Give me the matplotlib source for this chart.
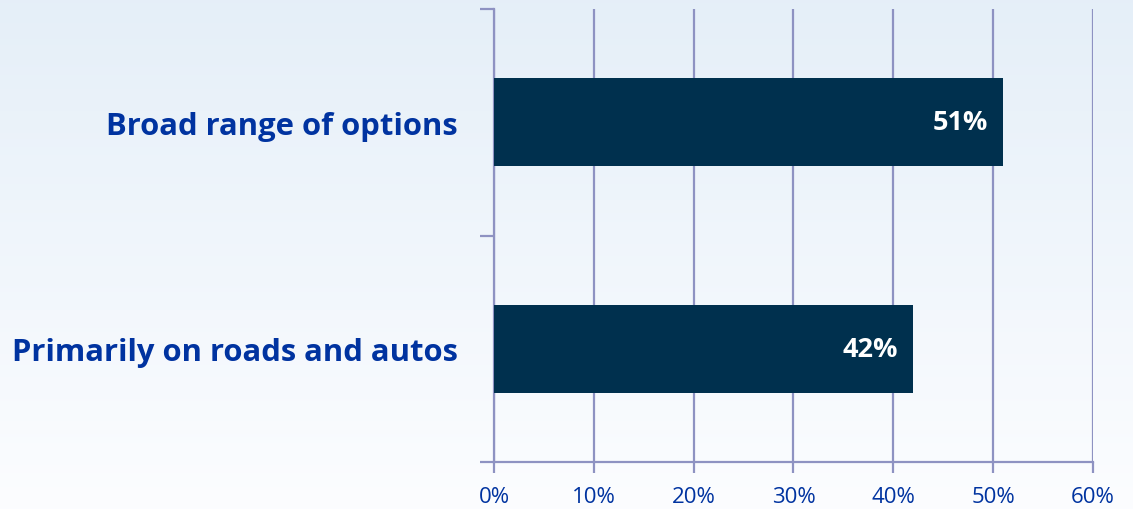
import numpy as np
import matplotlib.pyplot as plt
from matplotlib.ticker import FixedLocator, PercentFormatter

categories = ['Primarily on roads and autos', 'Broad range of options']
values = [42, 51]
xticks = [0, 10, 20, 30, 40, 50, 60]

bar_color = '#00304E'
grid_color = '#8E92C2'
label_color = '#0033A0'

plt.rcParams['font.family'] = ['Open Sans', 'DejaVu Sans']

fig = plt.figure(figsize=(11.33, 5.1), dpi=100)

# background gradient, light blue at the top fading to white
bg = fig.add_axes([0, 0, 1, 1], zorder=-10)
grad = np.linspace(0, 1, 256).reshape(-1, 1)
top = np.array([0.898, 0.937, 0.973])
bottom = np.array([0.988, 0.992, 1.0])
img = top + (bottom - top) * grad[:, :, None]
bg.imshow(img, aspect='auto', extent=[0, 1, 0, 1])
bg.axis('off')

ax = fig.add_axes([0.436, 0.0922, 0.5287, 0.888])
ax.patch.set_alpha(0)
y = np.arange(len(categories))
ax.barh(y, values, height=0.39, color=bar_color, zorder=3)

for yi, v in zip(y, values):
    ax.text(v - 1.5, yi, f'{v}%', color='white', fontsize=19.5, fontweight='bold',
            ha='right', va='center', zorder=4)

ax.set_xlim(0, 60)
ax.set_ylim(-0.5, 1.5)
ax.set_xticks(xticks)
ax.xaxis.set_major_formatter(PercentFormatter(decimals=0))
ax.tick_params(axis='x', colors=grid_color, labelcolor=label_color, labelsize=16,
               length=8, width=1.6, pad=9)
ax.grid(axis='x', color=grid_color, linewidth=1.6, zorder=0)

ax.set_yticks(y)
ax.set_yticklabels(categories, fontsize=22.3, fontweight='bold', color=label_color)
ax.tick_params(axis='y', which='major', length=0, pad=26)
ax.yaxis.set_minor_locator(FixedLocator([-0.5, 0.5, 1.5]))
ax.tick_params(axis='y', which='minor', length=10, width=1.6, color=grid_color)

for side in ['top', 'right']:
    ax.spines[side].set_visible(False)
for side in ['left', 'bottom']:
    ax.spines[side].set_color(grid_color)
    ax.spines[side].set_linewidth(1.6)

fig.savefig('out.png', dpi=100)
